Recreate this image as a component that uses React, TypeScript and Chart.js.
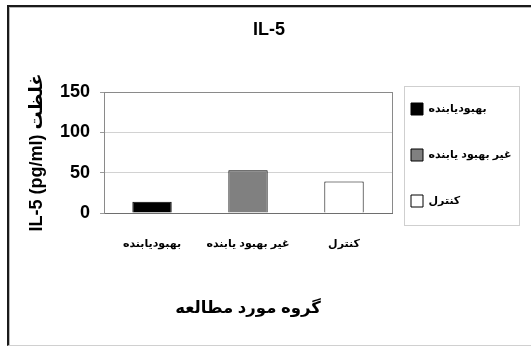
import React, { useEffect, useRef } from "react";
import { Chart, registerables } from "chart.js";

Chart.register(...registerables);

const categories = ["بهبودیابنده", "غیر بهبود یابنده", "کنترل"];
const values = [14, 53, 39];
const barColors = ["#000000", "#808080", "#ffffff"];
const yTicks = [0, 50, 100, 150];
const chartTitle = "IL-5";
const yTitle = "IL-5 (pg/ml) غلظت";
const xTitle = "گروه مورد مطالعه";

const FONT = "'Liberation Sans', Arial, 'DejaVu Sans', sans-serif";

const framePlugin = {
  id: "frameLines",
  beforeDatasetsDraw(chart: any) {
    const { ctx, chartArea: a } = chart;
    ctx.save();
    ctx.strokeStyle = "#8a8a8a";
    ctx.lineWidth = 1;
    const x = Math.round(a.right) + 0.5;
    ctx.beginPath();
    ctx.moveTo(x, a.top);
    ctx.lineTo(x, a.bottom);
    ctx.stroke();
    ctx.restore();
  },
  afterDraw(chart: any) {
    const lg = chart.legend;
    if (!lg || !lg.legendHitBoxes || !lg.legendHitBoxes.length) return;
    const hb = lg.legendHitBoxes;
    const first = hb[0];
    const last = hb[hb.length - 1];
    const left = Math.round(first.left - 7) + 0.5;
    const top = Math.round(first.top - 17) + 0.5;
    const bottom = Math.round(last.top + 12 + 18) + 0.5;
    const { ctx } = chart;
    ctx.save();
    ctx.strokeStyle = "#cfcfcf";
    ctx.lineWidth = 1;
    ctx.strokeRect(left, top, 115, bottom - top);
    ctx.restore();
  },
};

export default function App() {
  const ref = useRef<HTMLCanvasElement | null>(null);

  useEffect(() => {
    if (!ref.current) return;
    Chart.defaults.font.family = FONT;
    const chart = new Chart(ref.current, {
      type: "bar",
      data: {
        labels: categories,
        datasets: [
          {
            data: values,
            backgroundColor: barColors,
            borderColor: "#000000",
            borderWidth: 1,
            barPercentage: 0.41,
            categoryPercentage: 1,
          },
        ],
      },
      options: {
        responsive: false,
        animation: false,
        layout: { padding: { left: 24, right: 17, top: 0, bottom: 22 } },
        plugins: {
          title: {
            display: true,
            text: chartTitle,
            color: "#000",
            font: { size: 18, weight: "bold", family: FONT },
            padding: { top: 19, bottom: 51.4 },
          },
          legend: {
            display: true,
            position: "right",
            align: "center",
            maxWidth: 122,
            labels: {
              boxWidth: 12,
              boxHeight: 12,
              padding: 19,
              color: "#000",
              font: { size: 11, weight: "bold", family: FONT, lineHeight: 27 / 11 },
              generateLabels: () =>
                categories.map((c, i) => ({
                  text: [c] as any,
                  fillStyle: barColors[i],
                  strokeStyle: "#000",
                  lineWidth: 1,
                  hidden: false,
                  index: i,
                  fontColor: "#000",
                })) as any,
            },
          },
          tooltip: { enabled: false },
        },
        scales: {
          x: {
            grid: { display: false },
            border: { display: true, color: "#6e6e6e", width: 1 },
            ticks: {
              color: "#000",
              font: { size: 11, weight: "bold", family: FONT },
              padding: 16,
              maxRotation: 0,
              minRotation: 0,
              autoSkip: false,
            },
            title: {
              display: true,
              text: xTitle,
              color: "#000",
              font: { size: 16.5, weight: "bold", family: FONT },
              padding: { top: 31.9, bottom: 7.1 },
            },
          },
          y: {
            min: 0,
            max: 150,
            afterBuildTicks: (scale: any) => {
              scale.ticks = yTicks.map((v) => ({ value: v }));
            },
            grid: {
              color: (c: any) =>
                c.tick && (c.tick.value === 150 || c.tick.value === 0) ? "#8a8a8a" : "#d2d2d2",
              tickLength: 4,
              tickColor: "#9a9a9a",
            },
            border: { display: true, color: "#8a8a8a", width: 1 },
            ticks: {
              color: "#000",
              font: { size: 18, weight: "bold", family: FONT },
              padding: 10,
            },
            title: {
              display: true,
              text: yTitle,
              color: "#000",
              font: { size: 18, weight: "bold", family: FONT },
              padding: { top: 2.2, bottom: 2.2 },
            },
          },
        },
      },
      plugins: [framePlugin],
    } as any);
    return () => chart.destroy();
  }, []);

  return (
    <div style={{ position: "fixed", left: 0, top: 0, width: 531, height: 347, background: "#fff" }}>
      <div
        style={{
          position: "absolute",
          left: 7,
          top: 5,
          right: 0,
          bottom: 1,
          borderLeft: "2px solid #1a1a1a",
          borderTop: "2px solid #1a1a1a",
          borderBottom: "1px solid #d0d0d0",
          boxShadow: "inset 1px 1px 0 #b8b8b8",
        }}
      />
      <canvas ref={ref} width={531} height={347} style={{ position: "absolute", left: 0, top: 0 }} />
    </div>
  );
}
